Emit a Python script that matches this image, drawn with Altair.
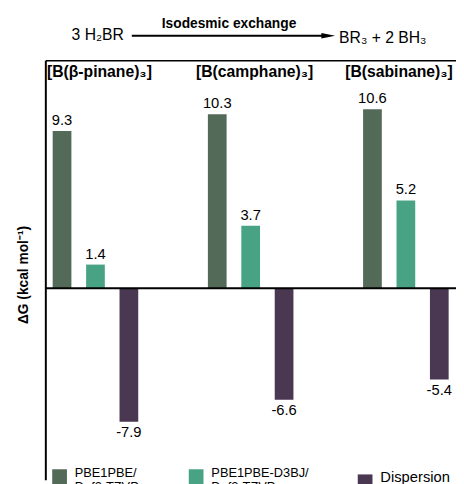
import altair as alt
import pandas as pd

groups = ["[B(β-pinane)₃]", "[B(camphane)₃]", "[B(sabinane)₃]"]
series = ["PBE1PBE/Def2-TZVP", "PBE1PBE-D3BJ/Def2-TZVP", "Dispersion"]
pbe = [9.3, 10.3, 10.6]
d3bj = [1.4, 3.7, 5.2]
disp = [-7.9, -6.6, -5.4]
colors = ["#536a58", "#48a385", "#4a3752"]

rows = []
for i, g in enumerate(groups):
    for s, vals in zip(series, [pbe, d3bj, disp]):
        rows.append({"group": g, "series": s, "value": vals[i]})
df = pd.DataFrame(rows)

FONT = "Liberation Sans"
W, H = 418, 427

xenc = alt.X("group:N", sort=groups,
             scale=alt.Scale(paddingInner=0.354, paddingOuter=0),
             axis=alt.Axis(orient="top", title=None, domain=True, domainColor="black",
                           domainWidth=1.5, ticks=False, tickSize=0, labelPadding=-11,
                           labelBaseline="middle", labelFont=FONT, labelFontSize=16,
                           labelFontWeight="bold", labelColor="black", labelAngle=0,
                           labelOffset=alt.ExprRef("indexof(datum.value, 'sabinane') >= 0 ? -7 : 4")))
xoff = alt.XOffset("series:N", sort=series,
                   scale=alt.Scale(paddingInner=0.44, paddingOuter=0.22))
yenc = alt.Y("value:Q", scale=alt.Scale(domain=[-11.34, 13.49], nice=False, zero=False),
             axis=alt.Axis(title="ΔG (kcal mol⁻¹)", domain=True, domainColor="black",
                           domainWidth=2, ticks=False, labels=False, grid=False,
                           titleFont=FONT, titleFontSize=14, titleFontWeight="bold",
                           titleColor="black", titlePadding=15, titleY=218))

base = alt.Chart(df).transform_calculate(
    lab="replace(format(datum.value, '.1f'), '\u2212', '-')")

bars = base.mark_bar().encode(
    x=xenc, xOffset=xoff, y=yenc,
    color=alt.Color("series:N", sort=series,
                    scale=alt.Scale(domain=series, range=colors),
                    legend=alt.Legend(orient="none", legendX=7, legendY=416,
                                      direction="horizontal", title=None,
                                      symbolType="square", symbolSize=225,
                                      symbolStrokeWidth=0, columnPadding=50,
                                      labelOffset=8, labelFont=FONT,
                                      labelFontSize=alt.ExprRef("datum.label == 'Dispersion' ? 15 : 13"),
                                      labelColor="black",
                                      labelBaseline="alphabetic", labelLimit=300,
                                      labelExpr="indexof(datum.label,'/')>=0 ? [slice(datum.label,0,indexof(datum.label,'/')+1), slice(datum.label,indexof(datum.label,'/')+1)] : datum.label")),
)

pos_lab = base.transform_filter("datum.value > 0").mark_text(
    baseline="bottom", dy=-3, font=FONT, fontSize=15, color="black"
).encode(x=alt.X("group:N", sort=groups), xOffset=xoff, y="value:Q", text="lab:N")

neg_lab = base.transform_filter("datum.value < 0").mark_text(
    baseline="top", dy=4, font=FONT, fontSize=15, color="black"
).encode(x=alt.X("group:N", sort=groups), xOffset=xoff, y="value:Q", text="lab:N")

zero = alt.Chart(pd.DataFrame({"value": [0]})).mark_rule(
    color="black", strokeWidth=2).encode(y="value:Q")

def note(txt, x, y, size=15, weight="normal", align="center"):
    return alt.Chart(pd.DataFrame({"t": [txt]})).mark_text(
        font=FONT, fontSize=size, fontWeight=weight, align=align,
        baseline="middle", color="black"
    ).encode(text="t:N", x=alt.value(x), y=alt.value(y))

title_txt = note("Isodesmic exchange", 187, -37, 14, "bold")
left_txt = note("3 H₂BR", 80, -26, 16, align="right")
right_txt = note("BR₃ + 2 BH₃", 299, -23, 16, align="left")

arrow_line = alt.Chart(pd.DataFrame({"t": [0]})).mark_rule(
    color="black", strokeWidth=2).encode(x=alt.value(88), x2=alt.value(284), y=alt.value(-25))
arrow_head = alt.Chart(pd.DataFrame({"t": [0]})).mark_point(
    shape="M-1,-0.4L1,0L-1,0.4Z", filled=True, color="black", size=196, opacity=1
).encode(x=alt.value(288), y=alt.value(-25))

chart = alt.layer(bars, zero, pos_lab, neg_lab, arrow_line, arrow_head,
                  title_txt, left_txt, right_txt).properties(
    width=W, height=H,
    autosize=alt.AutoSizeParams(type="none"),
    padding={"left": 38, "top": 49, "right": 0, "bottom": 0},
).configure_view(stroke=None)

chart.save("out.html", embed_options={"renderer": "svg", "actions": False})
